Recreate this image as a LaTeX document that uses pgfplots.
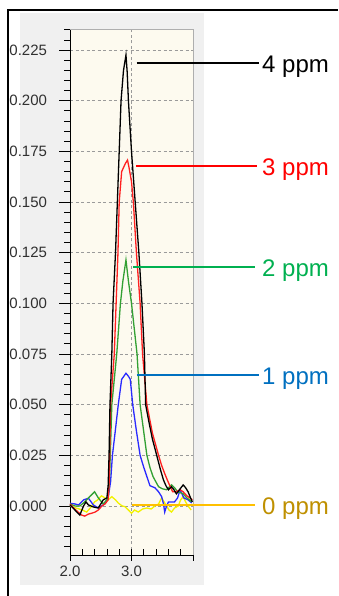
\documentclass[border=0pt]{standalone}
\usepackage{pgfplots}
\pgfplotsset{compat=1.18}
\usepackage{fontspec}
\setmainfont{Liberation Sans}
\definecolor{panel}{HTML}{F0F0F0}
\definecolor{cream}{HTML}{FDFAEF}
\definecolor{gridc}{HTML}{9A9A9A}
\definecolor{tickc}{HTML}{303030}
\definecolor{cgreen}{HTML}{33A033}
\definecolor{cblue}{HTML}{2A2AFF}
\definecolor{cred}{HTML}{FF2020}
\definecolor{cyellow}{HTML}{F2F200}
\definecolor{agreen}{HTML}{00B050}
\definecolor{ablue}{HTML}{0070C0}
\definecolor{aorange}{RGB}{255,192,0}
\definecolor{tgold}{HTML}{BF9000}
\begin{document}
\begin{tikzpicture}[x=1pt,y=1pt]
\path[use as bounding box] (0,0) rectangle (338,596);
\fill[white] (0,0) rectangle (338,596);
\fill[panel] (20,11) rectangle (204,583);
\draw[black,line width=2pt] (8,0) -- (8,586) -- (338,586);
\begin{axis}[
  at={(70pt,41pt)}, anchor=south west,
  scale only axis, width=123pt, height=526pt,
  xmin=2, xmax=4, ymin=-0.0242, ymax=0.2354,
  axis x line*=bottom, axis y line*=left,
  axis line style={black, line width=1pt},
  axis background/.style={fill=cream},
  clip=false,
  xtick={2,3,4}, xticklabels={2.0,3.0,{}},
  minor xtick={2.2,2.4,2.6,2.8,3.2,3.4,3.6,3.8},
  ytick={0,0.025,0.05,0.075,0.1,0.125,0.15,0.175,0.2,0.225},
  minor ytick={-0.02,-0.015,-0.01,-0.005,0.005,0.01,0.015,0.02,0.03,0.035,0.04,0.045,0.055,0.06,0.065,0.07,0.08,0.085,0.09,0.095,0.105,0.11,0.115,0.12,0.13,0.135,0.14,0.145,0.155,0.16,0.165,0.17,0.18,0.185,0.19,0.195,0.205,0.21,0.215,0.22,0.23,0.235},
  xtick align=inside, ytick align=outside,
  major tick length=11pt, minor tick length=6pt,
  major x tick style={yshift=-5.5pt},
  tick style={black, line width=0.8pt},
  xmajorgrids, ymajorgrids,
  major grid style={gridc, dash pattern=on 3pt off 2.5pt, line width=0.8pt},
  /pgf/number format/assume math mode=true,
  ticklabel style={font=\fontsize{15}{17}\selectfont, text=tickc},
  yticklabel style={xshift=-8.5pt, /pgf/number format/fixed, /pgf/number format/fixed zerofill, /pgf/number format/precision=3},
  xticklabel style={yshift=-7pt},
]
\draw[gridc!80, line width=0.8pt] (rel axis cs:0,1) -- (rel axis cs:1,1) -- (rel axis cs:1,0);
% 0 ppm
\addplot[cyellow, line width=1.3pt] coordinates {
(2.00,0.000)(2.10,-0.001)(2.20,-0.002)(2.27,-0.003)(2.33,-0.001)(2.40,0.002)(2.45,0.003)(2.51,0.005)(2.57,0.004)(2.62,0.003)(2.68,0.0046)(2.74,0.003)(2.79,0.0013)(2.85,0.000)(2.89,-0.0003)(2.95,-0.002)(3.00,-0.0036)(3.05,-0.002)(3.11,-0.003)(3.18,-0.0015)(3.25,-0.001)(3.32,-0.0015)(3.38,0.000)(3.44,0.001)(3.49,0.004)(3.53,0.002)(3.57,0.000)(3.61,-0.002)(3.65,-0.003)(3.70,-0.001)(3.76,0.000)(3.80,0.003)(3.84,0.0046)(3.88,0.002)(3.92,0.000)(3.97,-0.002)
};
% 1 ppm
\addplot[cblue, line width=1.3pt] coordinates {
(2.00,0.0013)(2.08,0.001)(2.14,0.0005)(2.22,0.003)(2.30,0.0038)(2.38,0.0005)(2.46,-0.001)(2.54,0.0005)(2.60,0.003)(2.62,0.004)(2.66,0.012)(2.69,0.025)(2.74,0.038)(2.785,0.050)(2.84,0.0625)(2.91,0.0655)(2.95,0.064)(2.98,0.0625)(3.02,0.050)(3.08,0.037)(3.14,0.025)(3.20,0.019)(3.25,0.0145)(3.30,0.010)(3.38,0.009)(3.44,0.007)(3.49,0.0046)(3.52,0.001)(3.54,-0.003)(3.56,-0.001)(3.60,0.002)(3.70,0.002)(3.75,0.004)(3.79,0.008)(3.85,0.004)(3.92,0.003)(3.98,0.0015)
};
% 2 ppm
\addplot[cgreen, line width=1.3pt] coordinates {
(2.00,0.001)(2.08,0.000)(2.16,0.000)(2.24,0.002)(2.32,0.0046)(2.40,0.007)(2.46,0.004)(2.54,0.001)(2.60,0.003)(2.62,0.004)(2.64,0.012)(2.655,0.025)(2.68,0.050)(2.76,0.075)(2.82,0.100)(2.86,0.111)(2.91,0.1214)(2.95,0.111)(3.00,0.100)(3.09,0.075)(3.14,0.050)(3.25,0.025)(3.30,0.019)(3.35,0.0145)(3.44,0.0095)(3.50,0.0085)(3.57,0.008)(3.65,0.0104)(3.70,0.009)(3.75,0.007)(3.84,0.006)(3.90,0.004)(3.98,0.002)
};
% 3 ppm
\addplot[cred, line width=1.3pt] coordinates {
(2.00,0.001)(2.06,-0.001)(2.13,-0.003)(2.19,-0.0045)(2.24,-0.005)(2.30,-0.004)(2.35,-0.0036)(2.41,-0.003)(2.46,-0.002)(2.52,0.000)(2.57,0.001)(2.62,0.003)(2.635,0.010)(2.645,0.025)(2.66,0.050)(2.72,0.075)(2.75,0.100)(2.78,0.125)(2.80,0.150)(2.84,0.165)(2.90,0.169)(2.935,0.1707)(2.96,0.167)(3.00,0.160)(3.03,0.150)(3.08,0.125)(3.14,0.100)(3.18,0.075)(3.25,0.050)(3.34,0.036)(3.44,0.025)(3.49,0.020)(3.54,0.016)(3.58,0.013)(3.63,0.0095)(3.67,0.007)(3.72,0.007)(3.79,0.008)(3.84,0.007)(3.90,0.005)(3.95,0.004)(3.99,0.003)
};
% 4 ppm
\addplot[black, line width=1.3pt] coordinates {
(2.00,0.0005)(2.05,-0.001)(2.11,-0.003)(2.16,-0.0045)(2.22,0.000)(2.26,0.002)(2.30,0.0005)(2.38,-0.0005)(2.46,-0.001)(2.54,0.003)(2.60,0.004)(2.62,0.010)(2.635,0.025)(2.65,0.050)(2.68,0.075)(2.70,0.100)(2.74,0.125)(2.77,0.150)(2.80,0.175)(2.83,0.200)(2.87,0.215)(2.91,0.2225)(2.93,0.214)(2.95,0.200)(3.00,0.175)(3.06,0.150)(3.12,0.125)(3.17,0.100)(3.21,0.075)(3.23,0.050)(3.28,0.042)(3.34,0.033)(3.41,0.025)(3.47,0.018)(3.52,0.0128)(3.56,0.010)(3.60,0.008)(3.65,0.0095)(3.69,0.008)(3.73,0.006)(3.78,0.008)(3.84,0.0104)(3.88,0.009)(3.92,0.007)(3.96,0.004)(3.99,0.002)
};
% callouts
\draw[black, line width=2pt] (axis cs:3.085,0.2188) -- (axis cs:5.073,0.2188);
\draw[red, line width=2pt] (axis cs:3.073,0.1678) -- (axis cs:5.04,0.1678);
\draw[agreen, line width=2pt] (axis cs:3.024,0.1179) -- (axis cs:5.008,0.1179);
\draw[ablue, line width=2pt] (axis cs:3.089,0.0646) -- (axis cs:5.073,0.0646);
\draw[draw=aorange, line width=2.2pt] (axis cs:3.008,0.0004) -- (axis cs:5.008,0.0004);
\tikzset{lab/.style={anchor=base west, inner sep=0pt, yshift=-9.5pt, font=\fontsize{24}{28}\selectfont}}
\node[lab, text=black] at (axis cs:5.122,0.2188) {4 ppm};
\node[lab, text=red] at (axis cs:5.122,0.1678) {3 ppm};
\node[lab, text=agreen] at (axis cs:5.122,0.1179) {2 ppm};
\node[lab, text=ablue] at (axis cs:5.122,0.0646) {1 ppm};
\node[lab, text=tgold] at (axis cs:5.122,0.0004) {0 ppm};
\end{axis}
\end{tikzpicture}
\end{document}
